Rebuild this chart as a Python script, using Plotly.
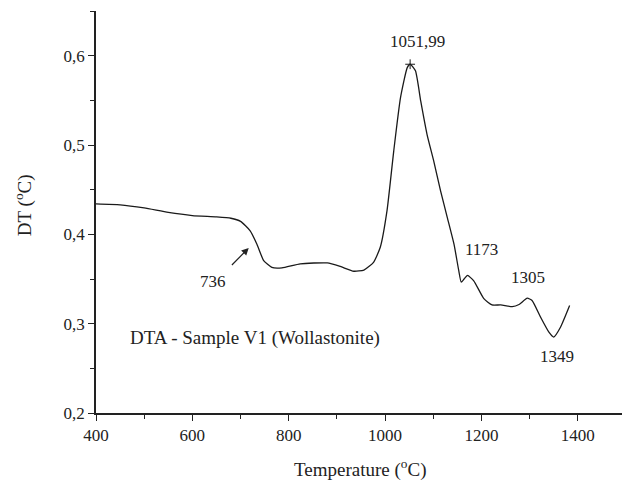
import plotly.graph_objects as go

temperature = [400, 450, 500, 550, 600, 650, 680, 700, 720, 734, 748, 765, 786, 824, 880, 907,
               935, 956, 976, 990, 1004, 1018, 1032, 1046, 1052, 1063, 1074, 1087, 1101, 1115,
               1129, 1143, 1153, 1158, 1164, 1171, 1184, 1205, 1222, 1240, 1264, 1278, 1295,
               1305, 1323, 1340, 1350, 1364, 1383]
dt_values = [0.434, 0.4330, 0.4295, 0.4245, 0.4210, 0.4195, 0.418, 0.4145, 0.404, 0.389, 0.3706,
             0.363, 0.3625, 0.367, 0.368, 0.364, 0.3587, 0.360, 0.3687, 0.3855, 0.4265, 0.4935,
             0.553, 0.5866, 0.5904, 0.583, 0.549, 0.512, 0.482, 0.449, 0.419, 0.389, 0.359,
             0.3464, 0.350, 0.354, 0.348, 0.328, 0.321, 0.321, 0.319, 0.3215, 0.3285, 0.326,
             0.307, 0.2905, 0.285, 0.296, 0.3203]

peak_x = [1051.99]
peak_y = [0.5904]

label_texts = ["1051,99", "736", "1173", "1305", "1349"]
label_x = [1067, 643, 1200, 1296, 1357]
label_y = [0.6156, 0.347, 0.383, 0.352, 0.2636]

x_ticks = [400, 600, 800, 1000, 1200, 1400]
y_ticks = [0.2, 0.3, 0.4, 0.5, 0.6]

FONT = "Times New Roman, Liberation Serif, DejaVu Serif, serif"
fig = go.Figure()
fig.add_trace(go.Scatter(x=temperature, y=dt_values, mode="lines",
                         line=dict(color="#1a1a1a", width=1.3, shape="spline", smoothing=0.5),
                         showlegend=False))
fig.add_trace(go.Scatter(x=peak_x, y=peak_y, mode="markers",
                         marker=dict(symbol="cross-thin-open", size=7, color="#1a1a1a",
                                     line=dict(width=1, color="#1a1a1a")),
                         showlegend=False))

for t, xx, yy in zip(label_texts, label_x, label_y):
    fig.add_annotation(x=xx, y=yy, text=t, showarrow=False,
                       font=dict(family=FONT, size=17, color="#222"))

fig.add_annotation(x=717, y=0.3848, ax=679, ay=0.364, axref="x", ayref="y",
                   text="", showarrow=True, arrowhead=2, arrowsize=1.2, arrowwidth=1.2,
                   arrowcolor="#222")
fig.add_annotation(x=467, y=0.2835, text="DTA - Sample V1 (Wollastonite)", showarrow=False,
                   xanchor="left", font=dict(family=FONT, size=19, color="#222"))

# axis titles placed as paper annotations
fig.add_annotation(xref="paper", yref="paper", x=0.498, y=-0.137,
                   xanchor="center", yanchor="middle",
                   text="Temperature (<sup>o</sup>C)", showarrow=False,
                   font=dict(family=FONT, size=19, color="#222"))
fig.add_annotation(xref="paper", yref="paper", x=-0.1377, y=0.517, textangle=-90,
                   xanchor="center", yanchor="middle",
                   text="DT (<sup>o</sup>C)", showarrow=False,
                   font=dict(family=FONT, size=19, color="#222"))

# the page body adds an 8px margin; the figure is sized to fill the rest of the window
fig.update_layout(
    width=622, height=473,
    margin=dict(l=88, r=4, t=3, b=68, autoexpand=False),
    paper_bgcolor="white", plot_bgcolor="white",
    separators=",.",
    font=dict(family=FONT, size=17, color="#222"),
    xaxis=dict(range=[400, 1500], tickvals=x_ticks, showline=True, linecolor="#222",
               linewidth=1.5, ticks="outside", ticklen=6, tickwidth=1.3, tickcolor="#222",
               minor=dict(ticks="outside", ticklen=4, dtick=100, tick0=400, tickcolor="#222"),
               showgrid=False, zeroline=False, automargin=False),
    yaxis=dict(range=[0.2, 0.65], tickvals=y_ticks, showline=True, linecolor="#222",
               linewidth=1.5, ticks="outside", ticklen=6, tickwidth=1.3, tickcolor="#222",
               minor=dict(ticks="outside", ticklen=4, dtick=0.05, tick0=0.2, tickcolor="#222"),
               showgrid=False, zeroline=False, automargin=False),
)
fig.write_html("out.html")
